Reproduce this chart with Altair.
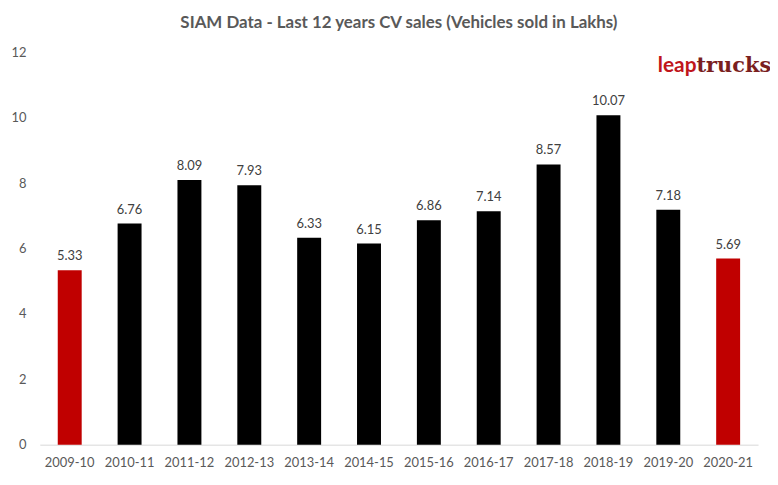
import altair as alt
import pandas as pd

years = ["2009-10", "2010-11", "2011-12", "2012-13", "2013-14", "2014-15",
         "2015-16", "2016-17", "2017-18", "2018-19", "2019-20", "2020-21"]
sales = [5.33, 6.76, 8.09, 7.93, 6.33, 6.15, 6.86, 7.14, 8.57, 10.07, 7.18, 5.69]
highlight = ["red", "black", "black", "black", "black", "black",
             "black", "black", "black", "black", "black", "red"]

df = pd.DataFrame({"year": years, "sales": sales, "grp": highlight,
                   "label": [f"{v:.2f}" for v in sales]})

FONT = "Lato"
W, H = 723, 395

x = alt.X("year:N", sort=years, title=None,
          scale=alt.Scale(paddingInner=0.6, paddingOuter=0.3),
          axis=alt.Axis(labelAngle=0, labelFontSize=13, labelColor="#595959",
                        labelFont=FONT, domainColor="#d9d9d9", domainWidth=1,
                        ticks=False, labelPadding=12))
y = alt.Y("sales:Q", title=None,
          scale=alt.Scale(domain=[0, 12], nice=False),
          axis=alt.Axis(values=[0, 2, 4, 6, 8, 10, 12], grid=False, domain=False,
                        ticks=False, labelFontSize=13, labelColor="#595959",
                        labelFont=FONT, labelPadding=14))

bars = alt.Chart(df).mark_bar().encode(
    x=x, y=y,
    color=alt.Color("grp:N", scale=alt.Scale(domain=["red", "black"],
                                             range=["#c00000", "#000000"]),
                    legend=None),
)

text = alt.Chart(df).mark_text(baseline="bottom", dy=-7, fontSize=13,
                               color="#404040", font=FONT).encode(
    x=alt.X("year:N", sort=years), y="sales:Q", text="label:N")

logo_leap = alt.Chart(pd.DataFrame({"t": ["leap"]})).mark_text(
    align="right", baseline="middle", fontSize=21, font="Lato",
    fontWeight="bold", color="#c0151b").encode(
    x=alt.value(661), y=alt.value(14), text="t:N")
logo_trucks = alt.Chart(pd.DataFrame({"t": ["trucks"]})).mark_text(
    align="left", baseline="middle", fontSize=21, font="DejaVu Serif",
    fontWeight="bold", color="#7a1f1f").encode(
    x=alt.value(661), y=alt.value(14), text="t:N", )

chart = alt.layer(bars, text, logo_leap, logo_trucks).properties(
    width=W, height=H,
    title=alt.Title("SIAM Data - Last 12 years CV sales (Vehicles sold in Lakhs)",
                    fontSize=17, font=FONT, fontWeight="bold", color="#595959",
                    anchor="middle", offset=14),
    autosize=alt.AutoSizeParams(type="none"),
    padding={"left": 32, "top": 43, "right": 12, "bottom": 30},
).configure(background="white", view=alt.ViewConfig(stroke=None))

chart.save("out.html", embed_options={"renderer": "svg", "actions": False})
